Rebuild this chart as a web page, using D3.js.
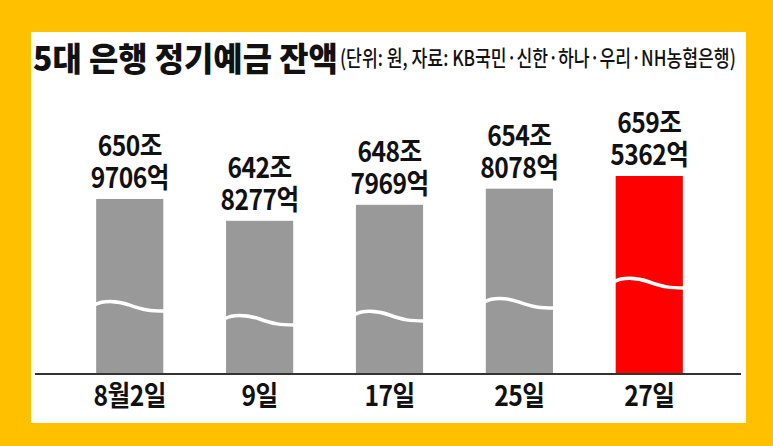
<!DOCTYPE html>
<html>
<head>
<meta charset="utf-8">
<script src="https://cdn.jsdelivr.net/npm/d3@7/dist/d3.min.js"></script>
<style>
  html, body { margin: 0; padding: 0; background: #FFC000; }
  svg { display: block; }
  text { font-family: "Noto Sans CJK KR", "Noto Sans", sans-serif; fill: #111; }
</style>
</head>
<body>
<svg id="chart" width="773" height="446"></svg>
<script>
// ---- data ----
const categories = ["8월2일", "9일", "17일", "25일", "27일"];
const values = [650.9706, 642.8277, 648.7969, 654.8078, 659.5362];   // 조 원
const labelTop = ["650조", "642조", "648조", "654조", "659조"];
const labelBottom = ["9706억", "8277억", "7969억", "8078억", "5362억"];
const breakVals = [612.9, 607.7, 609.2, 614.0, 621.5];   // axis-break (wave) value per bar
const highlight = [false, false, false, false, true];
const titleText = "5대 은행 정기예금 잔액";
const subtitleText = "(단위: 원, 자료: KB국민·신한·하나·우리·NH농협은행)";

// ---- layout ----
const W = 773, H = 446;
const svg = d3.select("#chart");
svg.append("rect").attr("x", 0).attr("y", 0).attr("width", W).attr("height", H).attr("fill", "#FFC000");
svg.append("rect").attr("x", 31).attr("y", 32).attr("width", 715).attr("height", 391).attr("fill", "#fff");

const x = d3.scaleBand().domain(categories).range([65, 714]).paddingInner(0.483).paddingOuter(0.24);
const y = d3.scaleLinear().domain([585.7, 659.5362]).range([374, 176]);

// fit a text horizontally to a target width by scaling about its left edge
function fitText(sel, x0, y0, target) {
  const w = sel.node().getComputedTextLength();
  sel.attr("x", 0).attr("y", 0).attr("transform", `translate(${x0},${y0}) scale(${target / w},1)`);
}

// title
const t1 = svg.append("text").attr("font-size", 33).attr("font-weight", 900).text(titleText);
fitText(t1, 33, 71, 305);
const t2 = svg.append("text").attr("font-size", 22).attr("font-weight", 500).text(subtitleText);
fitText(t2, 340, 66, 396);

const data = categories.map((c, i) => ({c, v: values[i], t: labelTop[i], b: labelBottom[i], br: breakVals[i], hl: highlight[i]}));

// bars
svg.append("g").selectAll("rect").data(data).join("rect")
  .attr("x", d => x(d.c))
  .attr("y", d => y(d.v))
  .attr("width", x.bandwidth())
  .attr("height", d => y(585.7) - y(d.v))
  .attr("fill", d => d.hl ? "#FF0000" : "#999999");

// wave breaks
svg.append("g").selectAll("path").data(data).join("path")
  .attr("d", d => {
    const x0 = x(d.c) - 1, w = x.bandwidth() + 2, x1 = x0 + w, p = y(d.br);
    return `M${x0},${p + 3.5} C${x0 + 0.1 * w},${p - 0.5} ${x0 + 0.3 * w},${p - 1} ${x0 + 0.5 * w},${p + 4} S${x0 + 0.8 * w},${p + 10} ${x1},${p + 10}`;
  })
  .attr("fill", "none").attr("stroke", "#fff").attr("stroke-width", 3.5);

// value labels (two lines in one text element)
const lab = svg.append("g").selectAll("text").data(data).join("text")
  .attr("text-anchor", "middle")
  .attr("font-size", 28).attr("font-weight", 600)
  .attr("letter-spacing", -0.6)
  .attr("transform", d => `translate(${x(d.c) + x.bandwidth() / 2},${y(d.v)}) scale(0.88,1)`);
lab.append("tspan").attr("x", 0).attr("y", -43).text(d => d.t);
lab.append("tspan").attr("x", 0).attr("y", -11).text(d => d.b);

// x axis
svg.append("line").attr("x1", 35).attr("x2", 741).attr("y1", 374).attr("y2", 374)
  .attr("stroke", "#333").attr("stroke-width", 2);
const ax = svg.append("g").attr("transform", "translate(0,374)")
  .call(d3.axisBottom(x).tickSize(0));
ax.select(".domain").remove();
ax.selectAll("text")
  .attr("y", 32).attr("dy", 0)
  .attr("font-size", 28).attr("font-weight", 600)
  .attr("fill", "#111")
  .attr("letter-spacing", -0.6)
  .attr("transform", "scale(0.88,1)")
  .style("font-family", "'Noto Sans CJK KR', sans-serif");
</script>
</body>
</html>
